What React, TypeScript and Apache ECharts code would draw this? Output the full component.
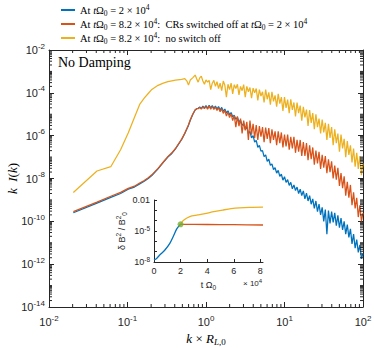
import React, { useEffect, useRef } from 'react';
import * as echarts from 'echarts';

// ---------- main-panel data (log10 values) ----------
const smoothLogK = [-1.690, -1.389, -1.213, -1.088, -0.991, -0.912, -0.845, -0.787, -0.736, -0.690, -0.611, -0.544, -0.486, -0.435, -0.389, -0.310, -0.270, -0.243, -0.223, -0.200, -0.170, -0.138, -0.118];

const yellowSmooth = [-8.65, -7.65, -7.45, -6.66, -5.88, -5.15, -4.54, -4.25, -4.03, -3.84, -3.65, -3.55, -3.48, -3.44, -3.41, -3.37, -3.34, -3.45, -3.64, -3.40, -3.30, -3.17, -3.35];
const blueSmooth = [-9.60, -9.15, -8.88, -8.70, -8.50, -8.40, -8.25, -8.13, -8.00, -7.86, -7.55, -7.25, -7.00, -6.83, -6.62, -6.18, -5.90, -5.68, -5.52, -5.28, -5.02, -4.80, -4.74];
const redSmooth = [-9.55, -9.10, -8.83, -8.65, -8.46, -8.36, -8.21, -8.09, -7.96, -7.83, -7.53, -7.23, -6.98, -6.80, -6.60, -6.16, -5.88, -5.66, -5.49, -5.26, -5.00, -4.79, -4.74];

const noiseLogK = [
  -0.10, -0.08, -0.06, -0.04, -0.02, 0.00, 0.02, 0.04, 0.06, 0.08,
  0.10, 0.12, 0.14, 0.16, 0.18, 0.20, 0.22, 0.24, 0.26, 0.28,
  0.30, 0.32, 0.34, 0.36, 0.38, 0.40, 0.42, 0.44, 0.46, 0.48,
  0.50, 0.52, 0.54, 0.56, 0.58, 0.60, 0.62, 0.64, 0.66, 0.68,
  0.70, 0.72, 0.74, 0.76, 0.78, 0.80, 0.82, 0.84, 0.86, 0.88,
  0.90, 0.92, 0.94, 0.96, 0.98, 1.00, 1.02, 1.04, 1.06, 1.08,
  1.10, 1.12, 1.14, 1.16, 1.18, 1.20, 1.22, 1.24, 1.26, 1.28,
  1.30, 1.32, 1.34, 1.36, 1.38, 1.40, 1.42, 1.44, 1.46, 1.48,
  1.50, 1.52, 1.54, 1.56, 1.58, 1.60, 1.62, 1.64, 1.66, 1.68,
  1.70, 1.72, 1.74, 1.76, 1.78, 1.80, 1.82, 1.84, 1.86, 1.88,
  1.90, 1.92, 1.94, 1.96, 1.98, 2.00,
];

const yellowNoise = [
  -3.50, -3.30, -3.22, -3.45, -3.60, -3.40, -3.50, -3.42, -3.85, -3.55,
  -3.42, -3.70, -3.48, -3.80, -3.55, -3.90, -3.45, -3.65, -4.20, -3.60,
  -3.85, -3.55, -4.05, -3.62, -3.80, -3.60, -4.10, -3.70, -3.90, -3.62,
  -4.20, -3.70, -3.95, -3.75, -4.25, -3.78, -4.00, -3.80, -4.35, -3.85,
  -4.15, -3.95, -4.45, -3.85, -4.30, -3.98, -4.55, -3.95, -4.40, -4.12,
  -4.65, -4.05, -4.50, -4.20, -4.85, -4.20, -4.70, -4.32, -4.95, -4.30,
  -4.80, -4.45, -5.10, -4.45, -4.95, -4.60, -5.30, -4.65, -5.15, -4.78,
  -5.55, -4.80, -5.40, -4.95, -5.70, -5.00, -5.60, -5.20, -5.90, -5.25,
  -5.85, -5.40, -6.20, -5.45, -6.10, -5.60, -6.45, -5.70, -6.35, -5.90,
  -6.75, -5.95, -6.60, -6.15, -7.00, -6.25, -6.90, -6.45, -7.25, -6.60,
  -7.45, -6.80, -7.55, -6.95, -7.85, -7.30,
];

const blueNoise = [
  -4.72, -4.66, -4.74, -4.62, -4.70, -4.60, -4.72, -4.58, -4.70, -4.60,
  -4.72, -4.62, -4.76, -4.64, -4.80, -4.68, -4.86, -4.76, -4.94, -4.84,
  -5.02, -4.92, -5.12, -5.04, -5.24, -5.14, -5.36, -5.28, -5.52, -5.44,
  -5.70, -5.60, -5.90, -5.80, -6.10, -6.00, -6.30, -6.22, -6.55, -6.45,
  -6.72, -6.70, -6.98, -6.90, -7.20, -7.10, -7.38, -7.32, -7.58, -7.50,
  -7.75, -7.62, -7.90, -7.80, -8.08, -7.92, -8.18, -8.05, -8.32, -8.18,
  -8.48, -8.30, -8.56, -8.40, -8.70, -8.50, -8.80, -8.58, -8.95, -8.68,
  -9.05, -8.80, -9.20, -8.95, -9.40, -9.05, -9.55, -9.20, -9.70, -9.35,
  -10.00, -9.45, -10.60, -9.50, -10.10, -9.55, -10.05, -9.60, -10.20, -9.72,
  -10.30, -9.85, -10.40, -10.00, -10.60, -10.15, -10.75, -10.35, -11.05, -10.60,
  -11.25, -10.85, -11.45, -11.10, -11.75, -11.50,
];

const redNoise = [
  -4.74, -4.68, -4.76, -4.66, -4.74, -4.64, -4.76, -4.62, -4.76, -4.64,
  -4.78, -4.66, -4.82, -4.70, -4.88, -4.74, -4.96, -4.82, -5.08, -4.90,
  -5.15, -4.98, -5.30, -5.05, -5.60, -5.10, -5.55, -5.20, -5.90, -5.30,
  -5.75, -5.35, -6.20, -5.30, -5.95, -5.45, -6.10, -5.50, -6.20, -5.55,
  -6.05, -5.60, -6.30, -5.62, -6.15, -5.65, -6.35, -5.70, -6.20, -5.80,
  -6.45, -5.80, -6.35, -5.85, -6.55, -5.95, -6.50, -5.95, -6.65, -6.05,
  -6.60, -6.05, -6.80, -6.20, -6.75, -6.20, -6.95, -6.30, -6.95, -6.35,
  -7.15, -6.45, -7.10, -6.55, -7.35, -6.70, -7.30, -6.75, -7.55, -6.90,
  -7.50, -6.95, -7.75, -7.10, -7.70, -7.20, -8.00, -7.40, -8.05, -7.50,
  -8.35, -7.75, -8.45, -7.90, -8.80, -8.15, -8.90, -8.30, -9.25, -8.65,
  -9.40, -8.90, -9.80, -9.25, -10.00, -9.60,
];

// ---------- inset data (t in units of 10^4, log10 of dB^2/B0^2) ----------
const insetBlueT = [0, 0.2, 0.45, 0.82, 1.19, 1.44, 1.69, 1.85, 2.0];
const insetBlueV = [-7.8, -7.65, -7.3, -6.84, -6.19, -5.55, -4.84, -4.55, -4.35];
const insetRedT = [2, 3, 4, 5, 6, 7, 8.2];
const insetRedV = [-4.35, -4.36, -4.37, -4.38, -4.39, -4.40, -4.42];
const insetYellowT = [2, 2.2, 2.69, 3.3, 3.93, 4.5, 5.17, 5.8, 6.42, 7.2, 8.2];
const insetYellowV = [-4.35, -3.98, -3.60, -3.45, -3.29, -3.12, -2.97, -2.84, -2.76, -2.71, -2.69];
const switchPoint = [2, -4.35];

const NAME_BLUE = 'At tΩ0 = 2 × 10^4';
const NAME_RED = 'At tΩ0 = 8.2 × 10^4: CRs switched off at tΩ0 = 2 × 10^4';
const NAME_YELLOW = 'At tΩ0 = 8.2 × 10^4: no switch off';

const COL = { blue: '#0072BD', red: '#D95319', yellow: '#EDB120', green: '#77AC30', axis: '#262626' };
const SANS = 'Liberation Sans, Arial, sans-serif';
const SERIF = 'Liberation Serif, Times New Roman, serif';

const p10 = (v: number) => Math.pow(10, v);
const mainPairs = (lk: number[], lv: number[]) => lk.map((k, i) => [p10(k), p10(lv[i])]);

export default function App() {
  const ref = useRef<HTMLDivElement>(null);
  useEffect(() => {
    if (!ref.current) return;
    const chart = echarts.init(ref.current, null, { renderer: 'svg' });

    const allK = smoothLogK.concat(noiseLogK);
    const blueData = mainPairs(allK, blueSmooth.concat(blueNoise));
    const redData = mainPairs(allK, redSmooth.concat(redNoise));
    const yellowData = mainPairs(allK, yellowSmooth.concat(yellowNoise));

    // minor tick positions (axis decoration)
    const minorTicks: number[][] = [];
    for (let e = -2; e < 2; e++) for (let m = 2; m <= 9; m++) minorTicks.push([m * Math.pow(10, e), 1e-14, 0]);
    for (let e = -14; e < -2; e++) {
      const start = Math.abs(e) % 2 === 0 ? 2 : 1;
      for (let m = start; m <= 9; m++) minorTicks.push([0.01, m * Math.pow(10, e), 1]);
    }

    const tickRich = {
      b: { fontSize: 11, fontFamily: SANS, color: COL.axis },
      s: { fontSize: 8, fontFamily: SANS, color: COL.axis, padding: [0, 0, 8, 0] },
    };
    const insetRich = {
      b: { fontSize: 9, fontFamily: SANS, color: COL.axis },
      s: { fontSize: 6.5, fontFamily: SANS, color: COL.axis, padding: [0, 0, 6, 0] },
      sub: { fontSize: 6.5, fontFamily: SANS, color: COL.axis, padding: [6, 0, 0, 0] },
    };
    const powLabel = (v: number) => `{b|10}{s|${Math.round(Math.log10(v))}}`;

    const LH = 12.5;
    const legendRich = {
      r: { fontSize: 10.5, fontFamily: SERIF, color: '#000', lineHeight: LH },
      i: { fontSize: 10.5, fontFamily: SERIF, fontStyle: 'italic', color: '#000', lineHeight: LH },
      sub: { fontSize: 7.5, fontFamily: SERIF, color: '#000', padding: [6, 0, 0, 0], lineHeight: LH },
      sup: { fontSize: 7.5, fontFamily: SERIF, color: '#000', padding: [0, 0, 6, 0], lineHeight: LH },
    };
    const tO = '{i|t}{r|Ω}{sub|0}';
    const legendText: Record<string, string> = {
      [NAME_BLUE]: `{r|At }${tO}{r| = 2 × 10}{sup|4}`,
      [NAME_RED]: `{r|At }${tO}{r| = 8.2 × 10}{sup|4}{r|:  CRs switched off at }${tO}{r| = 2 × 10}{sup|4}`,
      [NAME_YELLOW]: `{r|At }${tO}{r| = 8.2 × 10}{sup|4}{r|:  no switch off}`,
    };

    const nameRich = {
      i: { fontSize: 13, fontFamily: SERIF, fontStyle: 'italic', color: '#000' },
      r: { fontSize: 13, fontFamily: SERIF, color: '#000' },
      subi: { fontSize: 9, fontFamily: SERIF, fontStyle: 'italic', color: '#000', padding: [7, 0, 0, 0] },
      sub: { fontSize: 9, fontFamily: SERIF, color: '#000', padding: [7, 0, 0, 0] },
    };

    const axisLine = { show: true, lineStyle: { color: COL.axis, width: 1 } };
    const mainTick = { show: true, inside: true, length: 5, lineStyle: { color: COL.axis, width: 1 } };

    const lineSeries = (name: string, data: number[][], color: string) => ({
      type: 'line', name, data, xAxisIndex: 0, yAxisIndex: 0,
      showSymbol: false, symbol: 'none',
      lineStyle: { color, width: 1.25 }, itemStyle: { color }, clip: true, z: 3,
    });

    const option: any = {
      animation: false,
      backgroundColor: '#fff',
      legend: {
        data: [NAME_BLUE, NAME_RED, NAME_YELLOW],
        orient: 'vertical', left: 61, top: 3, padding: 0,
        itemWidth: 14, itemHeight: 2, itemGap: 0, icon: 'rect',
        selectedMode: false,
        formatter: (n: string) => legendText[n] || n,
        textStyle: { fontFamily: SERIF, fontSize: 10.5, color: '#000', lineHeight: LH, rich: legendRich },
      },
      grid: [
        { left: 49, right: 11, top: 50, bottom: 41, outerBoundsMode: 'none', containLabel: false },
        { left: 154, right: 111, top: 200, bottom: 86, show: true, backgroundColor: '#fff', borderWidth: 0, outerBoundsMode: 'none', containLabel: false },
      ],
      xAxis: [
        {
          type: 'log', gridIndex: 0, min: 0.01, max: 100, interval: 1, splitNumber: 4, position: 'bottom',
          axisLine, axisTick: mainTick, splitLine: { show: false },
          axisLabel: { margin: 7, formatter: powLabel, rich: tickRich },
          name: '{i|k}{r| × }{i|R}{subi|L}{sub|,0}', nameLocation: 'middle', nameGap: 21,
          nameTextStyle: { rich: nameRich, fontFamily: SERIF, fontSize: 13 },
        },
        {
          type: 'log', gridIndex: 0, min: 0.01, max: 100, interval: 1, splitNumber: 4, position: 'top',
          axisLine, axisTick: mainTick, splitLine: { show: false }, axisLabel: { show: false },
        },
        {
          type: 'value', gridIndex: 1, min: 0, max: 8.2, interval: 2, position: 'bottom',
          axisLine, axisTick: { show: true, inside: true, length: 3, lineStyle: { color: COL.axis } },
          splitLine: { show: false },
          axisLabel: { margin: 4, fontSize: 9, fontFamily: SANS, color: COL.axis, showMaxLabel: false, formatter: (v: number) => (Number.isInteger(v) ? String(v) : '') },
          name: '{b|t Ω}{sub|0}', nameLocation: 'middle', nameGap: 16,
          nameTextStyle: { rich: insetRich, fontSize: 9, fontFamily: SANS, color: COL.axis },
        },
      ],
      yAxis: [
        {
          type: 'log', gridIndex: 0, min: 1e-14, max: 1e-2, interval: 2, splitNumber: 6, position: 'left',
          axisLine, axisTick: mainTick, splitLine: { show: false },
          axisLabel: { margin: 4, formatter: powLabel, rich: tickRich },
          name: '{i|k}{r|  }{i|I}{r|(}{i|k}{r|)}', nameLocation: 'middle', nameGap: 30, nameRotate: 90,
          nameMoveOverlap: false,
          nameTextStyle: { rich: nameRich, fontFamily: SERIF, fontSize: 13 },
        },
        {
          type: 'log', gridIndex: 0, min: 1e-14, max: 1e-2, interval: 2, splitNumber: 6, position: 'right',
          axisLine, axisTick: mainTick, splitLine: { show: false }, axisLabel: { show: false },
        },
        {
          type: 'log', gridIndex: 1, min: 1e-8, max: 1e-2, interval: 1, position: 'left',
          axisLine, axisTick: { show: true, inside: true, length: 3, lineStyle: { color: COL.axis } },
          splitLine: { show: false },
          axisLabel: {
            margin: 4, rich: insetRich,
            formatter: (v: number) => {
              const e = Math.round(Math.log10(v));
              if (e === -2) return '{b|0.01}';
              if (e === -5 || e === -8) return `{b|10}{s|${e}}`;
              return '';
            },
          },
          name: '{b|δ B}{s|2}{b| / B}{s|2}{sub|0}', nameLocation: 'middle', nameGap: 26, nameRotate: 90,
          nameTextStyle: { rich: insetRich, fontSize: 9, fontFamily: SANS, color: COL.axis },
        },
      ],
      graphic: [
        { type: 'text', left: 58, top: 55, style: { text: 'No Damping', fontFamily: SERIF, fontSize: 14, fill: '#000' } },
        {
          type: 'text', left: 243, top: 278,
          style: {
            text: '{b|× 10}{s|4}', rich: {
              b: { fontSize: 8, fontFamily: SANS, fill: COL.axis, color: COL.axis },
              s: { fontSize: 6, fontFamily: SANS, fill: COL.axis, color: COL.axis, padding: [0, 0, 5, 0] },
            },
          },
        },
      ],
      series: [
        lineSeries(NAME_BLUE, blueData, COL.blue),
        lineSeries(NAME_RED, redData, COL.red),
        lineSeries(NAME_YELLOW, yellowData, COL.yellow),
        {
          type: 'custom', name: 'minor ticks', xAxisIndex: 0, yAxisIndex: 0, silent: true, clip: false, z: 4,
          data: minorTicks,
          renderItem: (_p: any, api: any) => {
            const kind = api.value(2);
            const L = 3;
            const st = { stroke: COL.axis, lineWidth: 1 };
            if (kind === 0) {
              const v = api.value(0);
              const b = api.coord([v, 1e-14]);
              const t = api.coord([v, 1e-2]);
              return {
                type: 'group', children: [
                  { type: 'line', shape: { x1: b[0], y1: b[1], x2: b[0], y2: b[1] - L }, style: st },
                  { type: 'line', shape: { x1: t[0], y1: t[1], x2: t[0], y2: t[1] + L }, style: st },
                ],
              };
            }
            const v = api.value(1);
            const l = api.coord([0.01, v]);
            const r = api.coord([100, v]);
            return {
              type: 'group', children: [
                { type: 'line', shape: { x1: l[0], y1: l[1], x2: l[0] + L, y2: l[1] }, style: st },
                { type: 'line', shape: { x1: r[0], y1: r[1], x2: r[0] - L, y2: r[1] }, style: st },
              ],
            };
          },
        },
        {
          type: 'line', name: 'inset blue', xAxisIndex: 2, yAxisIndex: 2, showSymbol: false, symbol: 'none', smooth: 0.3,
          data: insetBlueT.map((t, i) => [t, p10(insetBlueV[i])]), lineStyle: { color: COL.blue, width: 1.3 }, z: 5,
        },
        {
          type: 'line', name: 'inset red', xAxisIndex: 2, yAxisIndex: 2, showSymbol: false, symbol: 'none',
          data: insetRedT.map((t, i) => [t, p10(insetRedV[i])]), lineStyle: { color: COL.red, width: 1.3 }, z: 5,
        },
        {
          type: 'line', name: 'inset yellow', xAxisIndex: 2, yAxisIndex: 2, showSymbol: false, symbol: 'none', smooth: 0.3,
          data: insetYellowT.map((t, i) => [t, p10(insetYellowV[i])]), lineStyle: { color: COL.yellow, width: 1.3 }, z: 5,
        },
        {
          type: 'scatter', name: 'switch off', xAxisIndex: 2, yAxisIndex: 2, symbolSize: 6, z: 6,
          data: [[switchPoint[0], p10(switchPoint[1])]], itemStyle: { color: COL.green },
        },
      ],
    };

    chart.setOption(option);
    return () => chart.dispose();
  }, []);

  return <div ref={ref} style={{ width: 374, height: 348, position: 'absolute', left: 0, top: 0 }} />;
}
